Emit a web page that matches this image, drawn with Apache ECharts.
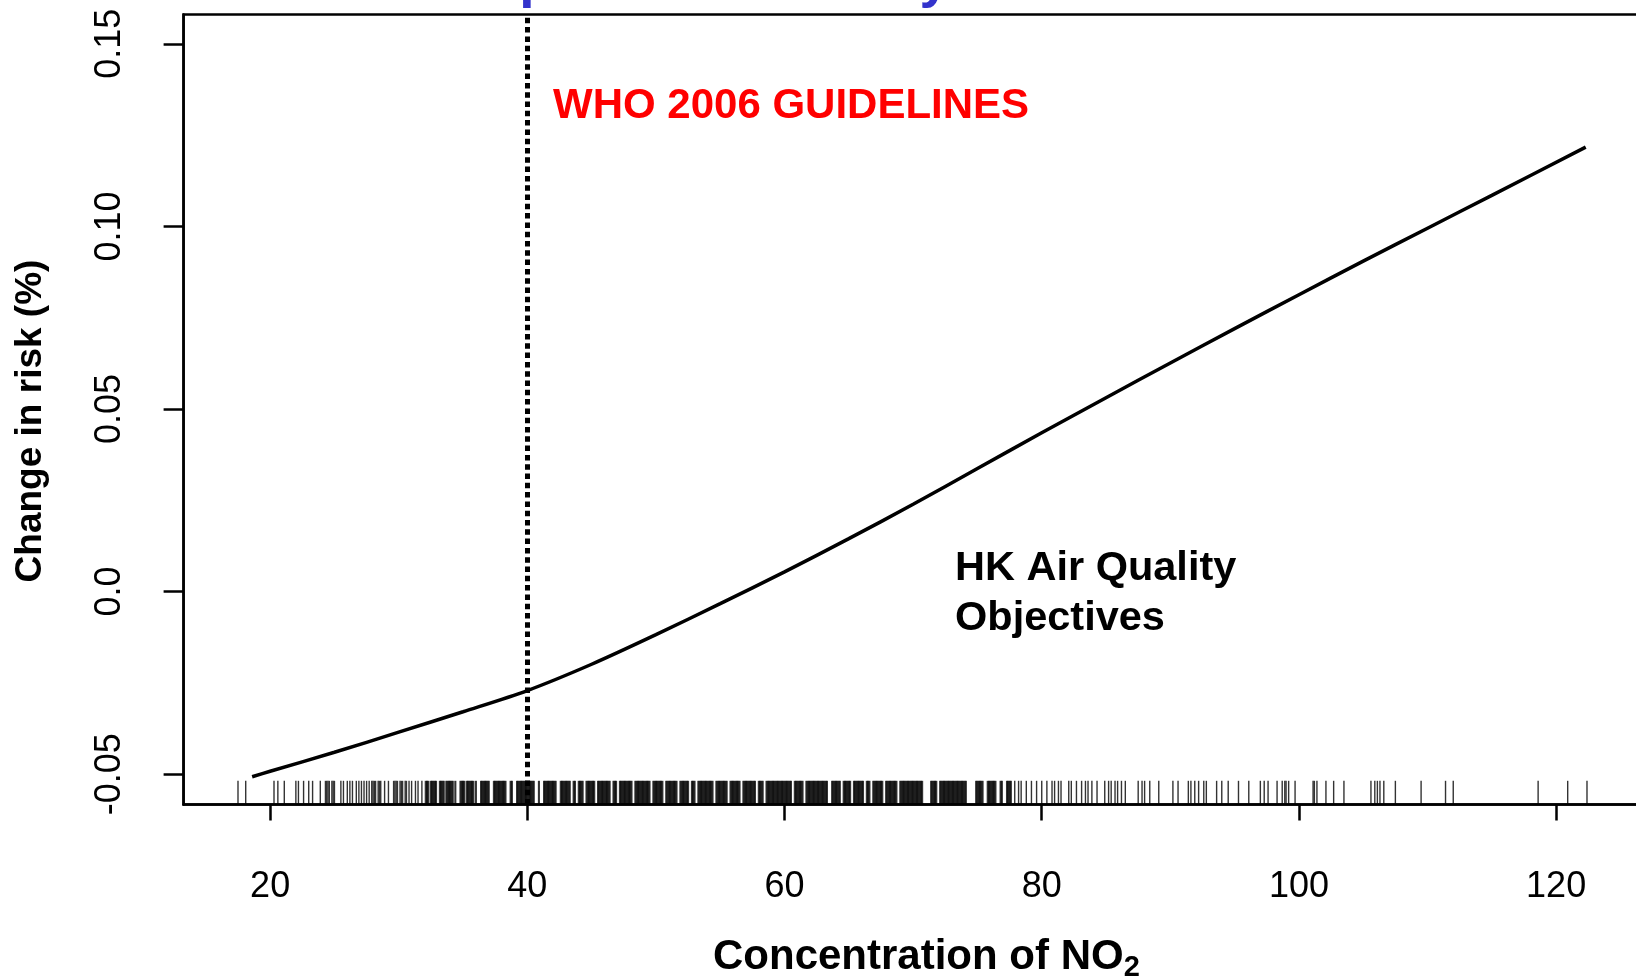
<!DOCTYPE html>
<html>
<head>
<meta charset="utf-8">
<title>Change in risk vs NO2</title>
<script src="https://cdn.jsdelivr.net/npm/echarts@6.0.0/dist/echarts.min.js"></script>
<style>
  html, body { margin: 0; padding: 0; background: #fff; }
  #main { width: 1636px; height: 979px; }
</style>
</head>
<body>
<div id="main"></div>
<script>
  // 曲线数据 (NO2 浓度, 风险变化)
  var curveX = [18.6, 20, 25, 30, 35, 40, 45, 50, 55, 60, 65, 70, 75, 80, 85, 90, 95, 100, 105, 110, 115, 122.3]
  var curveY = [-0.0507, -0.0492, -0.0440, -0.0385, -0.0329, -0.0271, -0.0199, -0.0118, -0.0033, 0.0054, 0.0145,
    0.0239, 0.0337, 0.0435, 0.0531, 0.0626, 0.0720, 0.0813, 0.0905, 0.0995, 0.1085, 0.1217]

  // 观测值 rug
  var rugLow = [17.5, 18.1, 20.3, 20.6, 21.1, 22.0, 22.2, 22.6, 23.0, 23.3, 23.9, 24.3, 24.4, 24.5, 24.6, 24.8, 24.9, 25.0,
    25.5, 25.7, 26.0, 26.2, 26.4, 26.7, 26.9, 27.1, 27.3, 27.5, 27.7, 27.9, 28.0, 28.1, 28.2, 28.4, 28.5, 28.6, 28.9,
    29.2, 29.6, 29.7, 29.8, 29.9, 30.1, 30.2, 30.3, 30.5, 30.6, 30.8, 31.0, 31.3, 31.5, 31.8]
  var rugMid1 = [32.1, 32.2, 32.3, 32.5, 32.6, 32.7, 32.8, 32.9, 33.2, 33.3, 33.4, 33.5, 33.7, 33.8, 33.9, 34.0, 34.1,
    34.2, 34.4, 34.8, 34.9, 35.0, 35.1, 35.3, 35.4, 35.5, 35.6, 35.7, 35.8, 36.0, 36.4, 36.5, 36.6, 36.7, 36.8, 36.9,
    37.0, 37.4, 37.5, 37.6, 37.7, 37.8, 37.9, 38.0, 38.1, 38.2, 38.3, 38.7, 38.8, 39.2, 39.3, 39.4, 39.5, 39.6, 39.7,
    39.8, 39.9, 40.0, 40.1, 40.2, 40.3, 40.4, 40.5, 40.9, 41.3, 41.4, 41.5, 41.6, 41.7, 41.8, 41.9, 42.0, 42.1, 42.2,
    42.6, 42.7, 42.8, 42.9, 43.0, 43.1, 43.2, 43.3]
  var rugMid2 = [43.6, 43.7, 44.0, 44.1, 44.2, 44.3, 44.6, 44.7, 44.8, 44.9, 45.0, 45.1, 45.2, 45.5, 45.6, 45.7, 45.8,
    45.9, 46.0, 46.1, 46.2, 46.3, 46.4, 46.7, 46.8, 46.9, 47.2, 47.3, 47.4, 47.5, 47.6, 47.7, 47.8, 47.9, 48.0, 48.1,
    48.4, 48.5, 48.6, 48.7, 48.8, 48.9, 49.0, 49.1, 49.2, 49.3, 49.4, 49.5, 49.8, 49.9, 50.0, 50.1, 50.2, 50.3, 50.4,
    50.5, 50.8, 50.9, 51.0, 51.1, 51.2, 51.3, 51.4, 51.5, 51.6, 51.9, 52.0, 52.1, 52.2, 52.3, 52.4, 52.5, 52.8, 52.9,
    53.0, 53.3, 53.4, 53.5, 53.6, 53.7, 53.8, 53.9, 54.0, 54.1, 54.2, 54.3, 54.4, 54.7, 54.8, 54.9, 55.0, 55.1, 55.2,
    55.3, 55.4, 55.5, 55.8, 55.9, 56.0, 56.1, 56.2, 56.3, 56.4, 56.5, 56.8, 56.9, 57.0, 57.1, 57.2, 57.3, 57.4, 57.5,
    57.6, 57.7, 58.0, 58.1, 58.2, 58.3, 58.6, 58.7, 58.8, 58.9, 59.0, 59.1, 59.2, 59.3, 59.4, 59.5, 59.6, 59.7, 59.8,
    59.9, 60.0, 60.1, 60.2, 60.3, 60.4, 60.5, 60.8, 60.9, 61.0, 61.1, 61.2, 61.3, 61.4, 61.7, 61.8, 61.9, 62.0, 62.1,
    62.2, 62.3, 62.4, 62.5, 62.6, 62.7, 62.8, 62.9, 63.0, 63.1, 63.2, 63.3, 63.7, 63.8, 63.9, 64.0, 64.1, 64.2, 64.3,
    64.6, 64.7, 64.8, 64.9, 65.0, 65.1, 65.4, 65.5, 65.6, 65.7, 65.8, 65.9, 66.0, 66.1, 66.4, 66.5, 66.6, 66.9, 67.0,
    67.1, 67.2, 67.3, 67.4, 67.5, 67.6, 67.9, 68.0, 68.1, 68.2, 68.3, 68.4, 68.5, 68.6, 68.7, 69.0, 69.1, 69.2, 69.3]
  var rugMid3 = [69.4, 69.5, 69.6, 69.7, 69.8, 69.9, 70.0, 70.1, 70.2, 70.3, 70.4, 70.5, 70.6, 70.7, 71.4, 71.5, 71.6,
    71.7, 71.8, 72.1, 72.2, 72.3, 72.4, 72.5, 72.6, 72.7, 72.8, 72.9, 73.0, 73.1, 73.2, 73.3, 73.4, 73.5, 73.6, 73.7,
    73.8, 73.9, 74.0, 74.1, 74.9, 75.0, 75.1, 75.2, 75.3, 75.4, 75.8, 75.9, 76.0, 76.1, 76.2, 76.3, 76.4, 76.8, 76.9,
    77.3, 77.4, 77.5, 77.6]
  var rugHigh = [77.9, 78.2, 78.4, 78.8, 79.2, 79.6, 80.0, 80.4, 80.8, 81.0, 81.3, 81.5, 82.1, 82.3, 82.7, 83.1, 83.4,
    83.6, 83.9, 84.3, 84.9, 85.2, 85.4, 85.7, 85.9, 86.2, 86.5, 87.5, 87.8, 88.0, 88.4, 89.1, 90.2, 90.6, 91.4, 91.6,
    91.9, 92.2, 92.6, 92.8, 93.6, 94.0, 94.5, 95.3, 96.1, 97.0, 97.3, 97.6, 98.3, 98.7, 98.9, 99.0, 99.2, 99.7, 101.1,
    101.2, 101.4, 102.1, 102.7, 103.5, 105.6, 105.9, 106.1, 106.3, 106.6, 107.5, 109.5, 111.4, 112.0, 118.6, 120.9, 122.4]

  // 刻度
  var xTicks = [20, 40, 60, 80, 100, 120]
  var yTicks = [-0.05, 0, 0.05, 0.10, 0.15]
  var yTickLabels = ['-0.05', '0.0', '0.05', '0.10', '0.15']
  var whoLimit = 40

  var xMin = 13.27, xMax = 126.67
  var yMin = -0.0583, yMax = 0.158

  var curveData = curveX.map(function (x, i) { return [x, curveY[i]] })
  var toRug = function (x) { return [x, yMin] }
  var rugDense = rugMid1.concat(rugMid2, rugMid3).map(toRug)
  var rugSparse = rugLow.concat(rugHigh).map(toRug)

  var FONT = '"Liberation Sans", Arial, Helvetica, sans-serif'

  var myChart = echarts.init(document.getElementById('main'))
  myChart.setOption({
    animation: false,
    backgroundColor: '#fff',
    textStyle: { fontFamily: FONT, color: '#000' },
    grid: {
      left: 183.6,
      top: 14.6,
      right: -5.9,
      bottom: 174.5,
      show: true,
      borderColor: '#000',
      borderWidth: 2.5,
      containLabel: false,
      outerBoundsMode: 'none'
    },
    xAxis: {
      type: 'value',
      min: xMin,
      max: xMax,
      axisLine: { show: true, onZero: false, lineStyle: { color: '#000', width: 2.5 } },
      axisTick: { show: true, length: 16, customValues: xTicks, lineStyle: { color: '#000', width: 2.5 } },
      axisLabel: { customValues: xTicks, margin: 65, fontSize: 36, color: '#000', fontFamily: FONT },
      splitLine: { show: false }
    },
    yAxis: {
      type: 'value',
      min: yMin,
      max: yMax,
      axisLine: { show: true, onZero: false, lineStyle: { color: '#000', width: 2.5 } },
      axisTick: { show: true, length: 20, customValues: yTicks, lineStyle: { color: '#000', width: 2.5 } },
      axisLabel: {
        customValues: yTicks,
        rotate: 90,
        margin: 56,
        fontSize: 36,
        color: '#000',
        fontFamily: FONT,
        formatter: function (v) {
          for (var i = 0; i < yTicks.length; i++) {
            if (Math.abs(yTicks[i] - v) < 1e-9) return yTickLabels[i]
          }
          return ''
        }
      },
      splitLine: { show: false }
    },
    series: [
      {
        // 密集部分
        type: 'scatter',
        data: rugDense,
        symbol: 'rect',
        symbolSize: [2.1, 23.7],
        symbolOffset: [0, '-50%'],
        itemStyle: { color: '#000' },
        silent: true,
        z: 2
      },
      {
        // 稀疏部分
        type: 'scatter',
        data: rugSparse,
        symbol: 'rect',
        symbolSize: [1.4, 23.7],
        symbolOffset: [0, '-50%'],
        itemStyle: { color: '#000' },
        silent: true,
        z: 2
      },
      {
        type: 'line',
        data: curveData,
        showSymbol: false,
        smooth: 0.3,
        lineStyle: { color: '#000', width: 3.5 },
        silent: true,
        z: 3,
        markLine: {
          silent: true,
          symbol: ['none', 'none'],
          label: { show: false },
          lineStyle: { color: '#000', width: 5, type: [5.5, 3.8], cap: 'butt' },
          data: [{ xAxis: whoLimit }]
        }
      }
    ],
    graphic: [
      {
        // 顶部标题 (大部分在画面外)
        type: 'text', x: 452, y: -19,
        style: { text: 'Exposure-Mortality Association', font: 'bold 55px ' + FONT, fill: '#3333CC', align: 'left', verticalAlign: 'middle' }
      },
      {
        type: 'text', x: 553, y: 106.4,
        style: { text: 'WHO 2006 GUIDELINES', font: 'bold 42px ' + FONT, fill: '#FF0000', align: 'left', verticalAlign: 'middle' }
      },
      {
        type: 'text', x: 955, y: 544,
        style: { text: 'HK Air Quality\nObjectives', font: 'bold 41.5px ' + FONT, lineHeight: 50, fill: '#000', align: 'left', verticalAlign: 'top' }
      },
      {
        type: 'text', x: 713, y: 932.5,
        style: {
          text: '{m|Concentration of NO}{s|2}',
          align: 'left',
          verticalAlign: 'top',
          fill: '#000',
          rich: {
            m: { font: 'bold 42px ' + FONT, lineHeight: 50, verticalAlign: 'middle', fill: '#000' },
            s: { font: 'bold 29px ' + FONT, lineHeight: 24, verticalAlign: 'bottom', fill: '#000' }
          }
        }
      },
      {
        type: 'text', x: 31, y: 421, rotation: Math.PI / 2,
        style: { text: 'Change in risk (%)', font: 'bold 37px ' + FONT, fill: '#000', align: 'center', verticalAlign: 'middle' }
      }
    ]
  })
</script>
</body>
</html>
